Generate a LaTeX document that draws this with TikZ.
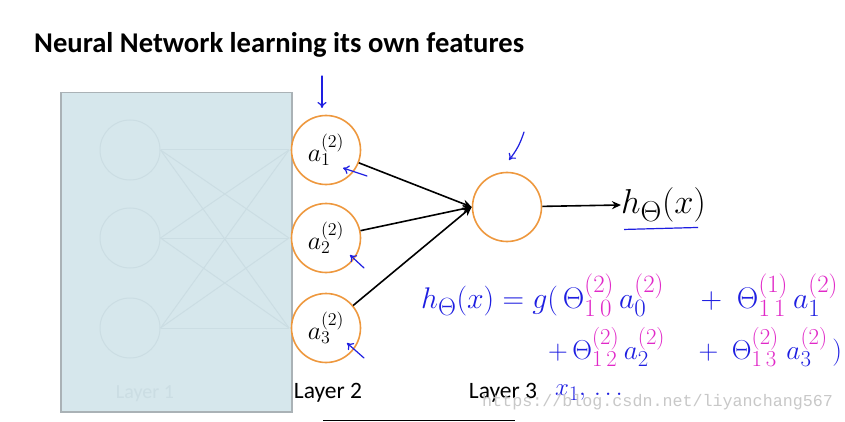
\documentclass[tikz,border=0pt]{standalone}
\usepackage{fontspec}
\setmainfont{Carlito}
\newfontfamily\wmfont{Liberation Mono}
\usetikzlibrary{arrows.meta}
\definecolor{boxfill}{RGB}{214,231,236}
\definecolor{boxedge}{RGB}{170,178,182}
\definecolor{faint}{RGB}{203,221,227}
\definecolor{neuron}{RGB}{238,152,62}
\definecolor{pen}{RGB}{30,30,225}
\definecolor{pink}{RGB}{225,40,200}
\definecolor{wm}{RGB}{200,200,200}
\tikzset{
  neuronnode/.style={circle, draw=neuron, line width=1.6pt, minimum size=69pt, inner sep=0pt, fill=white},
  fadenode/.style={circle, draw=faint, line width=1pt, minimum size=60pt, inner sep=0pt},
  fadeline/.style={draw=faint, line width=1pt},
  wire/.style={draw=black, line width=1.6pt, -{Stealth[length=9pt,width=8pt]}},
  penarrow/.style={draw=pen, line width=1.2pt, -{To[length=6pt,width=9pt]}, line cap=round},
  layerlabel/.style={font=\fontsize{23.5}{26}\selectfont, text=black},
  penmath/.style={text=pen, font=\fontsize{24.88}{28}\selectfont, inner sep=0pt}
}
\newcommand{\pk}[1]{{\color{pink}#1}}
\begin{document}
\begin{tikzpicture}[x=1pt,y=-1pt]
\useasboundingbox (0,0) rectangle (845,422);
\fill[white] (0,0) rectangle (845,422);
% title
\node[anchor=west, font=\bfseries\fontsize{28.6}{32}\selectfont, inner sep=0pt] (title) at (34,45) {Neural Network learning its own features};
% faded layer 1 box
\node[draw=boxedge, line width=1.5pt, fill=boxfill, minimum width=231pt, minimum height=319pt, inner sep=0pt, anchor=north west] (box) at (60,92) {};
\node[fadenode] (x1) at (130,150) {};
\node[fadenode] (x2) at (130,238) {};
\node[fadenode] (x3) at (130,328) {};
\coordinate (e1) at (289,150);
\coordinate (e2) at (289,238);
\coordinate (e3) at (289,328);
\foreach \i in {1,2,3}{\foreach \j in {1,2,3}{\draw[fadeline] (x\i.east) -- (e\j);}}
\node[text=faint, font=\fontsize{20}{22}\selectfont] (l1) at (145,394) {Layer 1};
% layer 2 neurons
\node[neuronnode] (a1) at (326,150) {\fontsize{20.74}{24}\selectfont\scalebox{1.25}{$a_1^{(2)}$}};
\node[neuronnode] (a2) at (326,238) {\fontsize{20.74}{24}\selectfont\scalebox{1.25}{$a_2^{(2)}$}};
\node[neuronnode] (a3) at (326,328) {\fontsize{20.74}{24}\selectfont\scalebox{1.25}{$a_3^{(2)}$}};
\node[neuronnode] (out) at (507,207) {};
\draw[wire] (a1) -- (out.west);
\draw[wire] (a2) -- (out.west);
\draw[wire] (a3) -- (out.west);
\node[anchor=west, inner sep=0pt, font=\fontsize{24.88}{28}\selectfont] (h) at (621,205) {\scalebox{1.39}{$h_\Theta(x)$}};
\draw[wire] (out) -- (h.west);
\draw[pen, line width=1.2pt] ([xshift=3pt,yshift=-7pt]h.south west) -- ([xshift=-8pt,yshift=-5pt]h.south east);
\node[layerlabel] (l2) at (328,393) {Layer 2};
\node[layerlabel] (l3) at (503,393) {Layer 3};
% handwritten arrows
\coordinate (p1) at (322,76); \coordinate (q1) at (322,108);
\draw[penarrow] (p1) -- (q1);
\coordinate (p2) at (367,176); \coordinate (q2) at (343,168);
\draw[penarrow] (p2) -- (q2);
\coordinate (p3) at (364,268); \coordinate (q3) at (350,255);
\draw[penarrow] (p3) -- (q3);
\coordinate (p4) at (364,358); \coordinate (q4) at (347,343);
\draw[penarrow] (p4) -- (q4);
\coordinate (p5) at (524,132); \coordinate (q5) at (509,160);
\draw[penarrow] (p5) to[bend left=10] (q5);
% formula
\node[penmath, anchor=west] (f1) at (421,295) {\scalebox{1.2}{$h_\Theta(x) = g(\,\Theta^{\pk{(2)}}_{\pk{1\,0}}\,a^{\pk{(2)}}_0\quad + \;\Theta^{\pk{(1)}}_{\pk{1\,1}}\,a^{\pk{(2)}}_1$}};
\node[penmath, anchor=west] (f2) at (548,347) {\scalebox{1.1}{$+\,\Theta^{\pk{(2)}}_{\pk{1\,2}}\,a^{\pk{(2)}}_2\quad +\;\Theta^{\pk{(2)}}_{\pk{1\,3}}\;a^{\pk{(2)}}_3\,)$}};
\node[penmath, anchor=west, font=\fontsize{24.88}{26}\selectfont] (xs) at (555,393) {$x_1,\,\ldots$};
% watermark
\node[anchor=west, text=wm, font=\wmfont\fontsize{16.7}{18}\selectfont, inner sep=0pt] (wmark) at (482,402) {https://blog.csdn.net/liyanchang567};
% bottom rule
\coordinate (r1) at (323,420); \coordinate (r2) at (515,420);
\draw[black, line width=1pt] (r1) -- (r2);
\end{tikzpicture}
\end{document}
